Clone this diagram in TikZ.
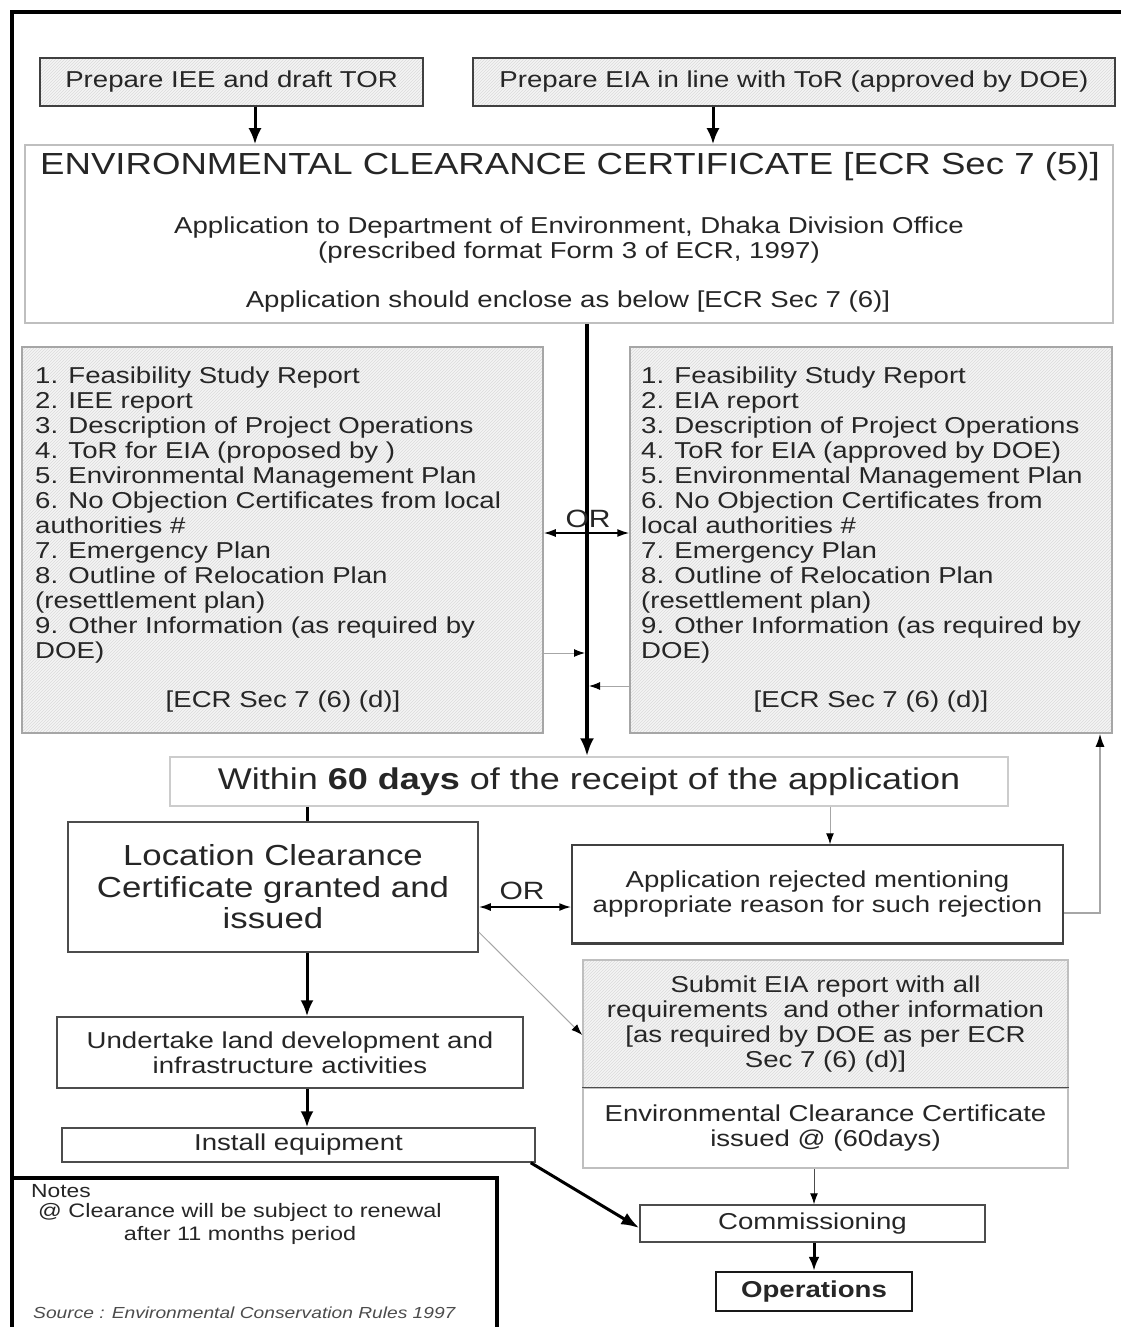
\documentclass[tikz,border=0pt]{standalone}
\usepackage{fontspec}
\setmainfont{Liberation Sans}[FakeStretch=1.2]
\usetikzlibrary{arrows.meta,patterns}
\newcommand\myfs[2]{\fontsize{#1}{#2}\selectfont}
\begin{document}
\begin{tikzpicture}[x=1pt,y=-1pt,
  every node/.style={text=black!85},
  box/.style={draw=#1, line width=1.5pt, inner sep=0pt, align=center, fill=white},
  box/.default={black!75},
  hatch/.style={preaction={fill=gray!8}, pattern=north east lines, pattern color=gray!28},
  txt/.style={inner sep=0pt, align=center},
  body/.style={font=\myfs{23}{25}},
  thickarrow/.style={line width=3pt, -{Latex[length=16pt,width=13pt]}},
  thinarrow/.style={line width=1pt, draw=gray!70, -{Latex[length=11pt,width=8pt,color=black]}},
  orarrow/.style={line width=1.8pt, {Latex[length=12pt,width=8pt]}-{Latex[length=12pt,width=8pt]}},
]
\useasboundingbox (0,0) rectangle (1120,1327);
% outer frame
\draw[line width=4pt] (12,1340) -- (12,12) -- (1125,12);

% top boxes
\node[box, hatch, minimum width=383pt, minimum height=48pt, body] (prepA) at (231.5,82) {Prepare IEE and draft TOR};
\node[box, hatch, minimum width=642pt, minimum height=48pt, body] (prepB) at (794,82) {Prepare EIA in line with ToR (approved by DOE)};

% ECC box
\node[box=gray!50, minimum width=1088pt, minimum height=178pt] (ecc) at (569,234) {};
\node[txt, font=\myfs{30.5}{32}] (ecct) at (570,167) {ENVIRONMENTAL CLEARANCE CERTIFICATE [ECR Sec 7 (5)]};
\node[txt, body] (appl) at (569,240) {Application to Department of Environment, Dhaka Division Office\\(prescribed format Form 3 of ECR, 1997)};
\node[txt, body] (encl) at (568,302) {Application should enclose as below [ECR Sec 7 (6)]};

\draw[thickarrow] ([xshift=23.5pt]prepA.south) -- ([xshift=23.5pt]prepA.south |- ecc.north);
\draw[thickarrow] ([xshift=-81pt]prepB.south) -- ([xshift=-81pt]prepB.south |- ecc.north);

% list boxes
\node[box=gray!70, hatch, minimum width=521pt, minimum height=386pt] (listL) at (282.5,540) {};
\node[box=gray!70, hatch, minimum width=482pt, minimum height=386pt] (listR) at (871,540) {};
\node[txt, body, align=left, anchor=north west] (listLt) at (35,367) {1. Feasibility Study Report\\2. IEE report\\3. Description of Project Operations\\4. ToR for EIA (proposed by )\\5. Environmental Management Plan\\6. No Objection Certificates from local\\authorities \#\\7. Emergency Plan\\8. Outline of Relocation Plan\\(resettlement plan)\\9. Other Information (as required by\\DOE)};
\node[txt, body, align=left, anchor=north west] (listRt) at (641,367) {1. Feasibility Study Report\\2. EIA report\\3. Description of Project Operations\\4. ToR for EIA (approved by DOE)\\5. Environmental Management Plan\\6. No Objection Certificates from\\local authorities \#\\7. Emergency Plan\\8. Outline of Relocation Plan\\(resettlement plan)\\9. Other Information (as required by\\DOE)};
\node[txt, body] (ecrL) at (283,702) {[ECR Sec 7 (6) (d)]};
\node[txt, body] (ecrR) at (871,702) {[ECR Sec 7 (6) (d)]};

% within box
\node[box=gray!40, minimum width=838pt, minimum height=49pt, font=\myfs{30}{32}] (within) at (589,781.5) {Within \textbf{60 days} of the receipt of the application};

% main vertical arrow
\coordinate (jL) at (585,653);
\coordinate (jR) at (589,686);
\draw[line width=4pt, -{Latex[length=18pt,width=14pt]}] (587,0 |- ecc.south) -- (587,0 |- within.north);
\draw[orarrow, line width=1.5pt] (listL.east |- 0,533) -- (listR.west |- 0,533);
\node[txt, font=\myfs{25}{27}] (or1) at (588,519) {OR};
\draw[thinarrow] (listL.east |- jL) -- (jL);
\draw[thinarrow] (listR.west |- jR) -- (jR);

% location and rejected
\node[box=black!70, minimum width=410pt, minimum height=130pt, font=\myfs{29}{31.5}] (loc) at (273,887) {Location Clearance\\Certificate granted and\\issued};
\node[box=black!75, minimum width=491pt, minimum height=98pt, body] (rej) at (817.5,894) {Application rejected mentioning\\appropriate reason for such rejection};
\draw[line width=3pt, black!75] (rej.south west) -- (rej.south east);
\draw[line width=3pt] (307,0 |- within.south) -- (307,0 |- loc.north);
\draw[thinarrow] (830,0 |- within.south) -- (830,0 |- rej.north);
\draw[orarrow] (loc.east |- 0,907) -- (rej.west |- 0,907);
\node[txt, font=\myfs{25}{27}] (or2) at (522,891) {OR};
\coordinate (rc) at (1100,913);
\draw[line width=1.5pt, draw=gray!70, -{Latex[length=13pt,width=9pt,color=black]}] (rej.east |- rc) -- (rc) -- (rc |- listR.south);

% submit and issued
\node[box=gray!50, hatch, minimum width=485pt, minimum height=128pt, body] (submit) at (825.5,1024) {Submit EIA report with all\\requirements\ \ and other information\\{[as} required by DOE as per ECR\\Sec 7 (6) (d)]};
\node[box=gray!50, minimum width=485pt, minimum height=80pt, body] (issued) at (825.5,1128) {Environmental Clearance Certificate\\issued @ (60days)};
\draw[line width=1.5pt, black!70] (issued.north west) -- (issued.north east);
\draw[thinarrow] (loc.east |- 0,932) -- (submit.west |- 0,1035);

% left chain
\node[box=black!70, minimum width=466pt, minimum height=71pt, body] (under) at (290,1052.5) {Undertake land development and\\infrastructure activities};
\node[box=black!70, minimum width=473pt, minimum height=34pt, body] (install) at (298.5,1145) {Install equipment};
\draw[thickarrow] (307,0 |- loc.south) -- (307,0 |- under.north);
\draw[thickarrow] (307,0 |- under.south) -- (307,0 |- install.north);

% commissioning / operations
\node[box=black!70, minimum width=345pt, minimum height=37pt, body] (comm) at (812.5,1223.5) {Commissioning};
\node[box=black!90, line width=2.5pt, minimum width=196pt, minimum height=39pt, body, font=\myfs{23}{25}\bfseries] (ops) at (814,1291.5) {Operations};
\draw[thinarrow, draw=black!70] (814,0 |- issued.south) -- (814,0 |- comm.north);
\draw[thickarrow, -{Latex[length=14pt,width=11pt]}] (814,0 |- comm.south) -- (814,0 |- ops.north);
\draw[line width=3pt, -{Latex[length=18pt,width=13pt]}] ([xshift=-5pt]install.south east) -- (comm.west |- 0,1228);

% notes
\node[draw=black, line width=4pt, minimum width=485pt, minimum height=170pt, inner sep=0pt] (notes) at (254.5,1263) {};
\node[txt, anchor=west, font=\myfs{19}{21}] (notesh) at (31,1191) {Notes};
\node[txt, font=\myfs{19.5}{23}] (notest) at (240,1224) {@ Clearance will be subject to renewal\\after 11 months period};
\node[txt, anchor=west, font=\myfs{16}{18}\itshape, text=black!70] (src) at (33,1313) {Source : Environmental Conservation Rules 1997};
\end{tikzpicture}
\end{document}
